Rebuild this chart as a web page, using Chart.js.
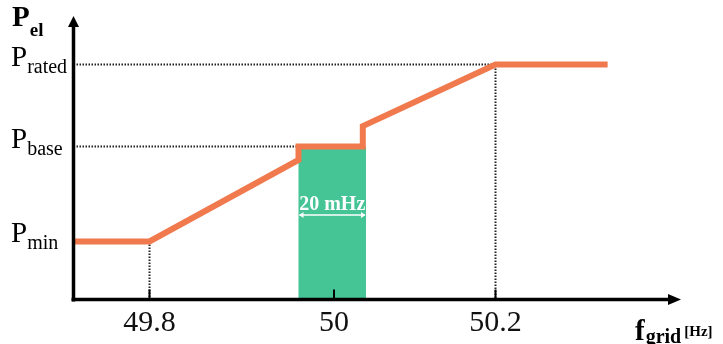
<!DOCTYPE html>
<html>
<head>
<meta charset="utf-8">
<script src="https://cdn.jsdelivr.net/npm/chart.js@4/dist/chart.umd.min.js"></script>
<style>
  html, body { margin: 0; padding: 0; background: #ffffff; }
  #wrap { width: 723px; height: 344px; position: relative; }
</style>
</head>
<body>
<div id="wrap"><canvas id="c" width="723" height="344"></canvas></div>
<script>
// Frequency-dependent active power curve (normalised, P_rated = 1)
const curveFreq  = [49.7, 49.8, 49.99, 49.99, 50.009, 50.009, 50.2, 50.33];
const curvePower = [0.247, 0.247, 0.594, 0.651, 0.651, 0.738, 1, 1];

// Power levels named on the vertical axis
const levelNames  = ['min', 'base', 'rated'];
const levelValues = [0.247, 0.651, 1];

// Frequency ticks and the deadband around 50 Hz
const xTicks      = [49.8, 50, 50.2];
const xTickLabels = ['49.8', '50', '50.2'];
const deadband    = [49.99, 50.01];
const deadbandLabel = '20 mHz';

// The frequency axis is drawn piecewise: the deadband is widened so it stays readable
const knotFreq = [49.7, 49.8, 49.99, 50, 50.01, 50.2, 50.4];
const knotSpan = [76, 149, 35.5, 32, 129.5, 172.5];
const spanTotal = knotSpan.reduce((a, b) => a + b, 0);
const fLo = knotFreq[0], fHi = knotFreq[knotFreq.length - 1];

function warp(v) {
  let acc = 0;
  for (let i = 0; i < knotSpan.length; i++) {
    const a = knotFreq[i], b = knotFreq[i + 1];
    if (v <= b || i === knotSpan.length - 1) {
      const t = (v - a) / (b - a);
      return fLo + (acc + t * knotSpan[i]) / spanTotal * (fHi - fLo);
    }
    acc += knotSpan[i];
  }
}
function unwarp(u) {
  const s = (u - fLo) / (fHi - fLo) * spanTotal;
  let acc = 0;
  for (let i = 0; i < knotSpan.length; i++) {
    if (s <= acc + knotSpan[i] || i === knotSpan.length - 1) {
      const t = (s - acc) / knotSpan[i];
      return knotFreq[i] + t * (knotFreq[i + 1] - knotFreq[i]);
    }
    acc += knotSpan[i];
  }
}

class SegmentedScale extends Chart.LinearScale {
  getPixelForValue(v) { return super.getPixelForValue(warp(v)); }
  getValueForPixel(p) { return unwarp(super.getValueForPixel(p)); }
}
SegmentedScale.id = 'segmented';
SegmentedScale.defaults = Chart.LinearScale.defaults;
Chart.register(SegmentedScale);

const ORANGE = '#f07a4e';
const GREEN  = '#45c496';
const SERIF  = '"Liberation Serif", "Times New Roman", serif';

const curve = curveFreq.map((f, i) => ({ x: f, y: curvePower[i] }));
const iMin = 0, iBase = 1, iRated = 2;
const guideRated = [
  { x: fLo, y: levelValues[iRated] },
  { x: xTicks[2], y: levelValues[iRated] },
  { x: xTicks[2], y: 0 }
];
const guideBase = [
  { x: fLo, y: levelValues[iBase] },
  { x: deadband[0], y: levelValues[iBase] }
];
const guideMin = [
  { x: xTicks[0], y: levelValues[iMin] },
  { x: xTicks[0], y: 0 }
];

const guideStyle = {
  borderColor: '#222', borderWidth: 2, borderDash: [1.5, 1.5],
  pointRadius: 0, fill: false, tension: 0
};

const drawing = {
  id: 'drawing',
  beforeDatasetsDraw(chart) {
    const { ctx, scales: { x, y } } = chart;
    const x0 = x.getPixelForValue(deadband[0]);
    const x1 = x.getPixelForValue(deadband[1]);
    const yt = y.getPixelForValue(levelValues[iBase]);
    const yb = y.getPixelForValue(0);
    ctx.save();
    ctx.fillStyle = GREEN;
    ctx.fillRect(x0, yt, x1 - x0, yb - yt);

    // width marker across the deadband
    const ya = y.getPixelForValue(0.36);
    ctx.strokeStyle = '#ffffff';
    ctx.fillStyle = '#ffffff';
    ctx.lineWidth = 1.5;
    ctx.beginPath();
    ctx.moveTo(x0 + 1, ya); ctx.lineTo(x1 - 1, ya);
    ctx.stroke();
    ctx.beginPath();
    ctx.moveTo(x0 + 0.5, ya); ctx.lineTo(x0 + 5, ya - 3); ctx.lineTo(x0 + 5, ya + 3); ctx.closePath();
    ctx.moveTo(x1 - 0.5, ya); ctx.lineTo(x1 - 5, ya - 3); ctx.lineTo(x1 - 5, ya + 3); ctx.closePath();
    ctx.fill();
    ctx.font = 'bold 20px ' + SERIF;
    ctx.textAlign = 'center';
    ctx.textBaseline = 'alphabetic';
    ctx.fillText(deadbandLabel, (x0 + x1) / 2, ya - 5);
    ctx.restore();
  },
  afterDatasetsDraw(chart) {
    const { ctx, chartArea, scales: { x, y } } = chart;
    const ax = chartArea.left;
    const ay = chartArea.bottom;
    ctx.save();
    ctx.strokeStyle = '#000';
    ctx.fillStyle = '#000';
    ctx.lineWidth = 3.5;
    ctx.lineCap = 'butt';
    // vertical axis with arrow
    ctx.beginPath();
    ctx.moveTo(ax, ay + 2); ctx.lineTo(ax, 24);
    ctx.stroke();
    ctx.beginPath();
    ctx.moveTo(ax, 16); ctx.lineTo(ax - 5.5, 27); ctx.lineTo(ax + 5.5, 27); ctx.closePath();
    ctx.fill();
    // horizontal axis with arrow
    ctx.beginPath();
    ctx.moveTo(ax - 2, ay); ctx.lineTo(672, ay);
    ctx.stroke();
    ctx.beginPath();
    ctx.moveTo(681, ay); ctx.lineTo(668, ay - 5.5); ctx.lineTo(668, ay + 5.5); ctx.closePath();
    ctx.fill();
    // inward tick marks
    ctx.lineWidth = 2;
    xTicks.forEach(v => {
      const px = x.getPixelForValue(v);
      ctx.beginPath();
      ctx.moveTo(px, ay); ctx.lineTo(px, ay - 10);
      ctx.stroke();
    });

    // level labels P_min, P_base, P_rated
    levelNames.forEach((name, i) => {
      const py = y.getPixelForValue(levelValues[i]);
      ctx.textAlign = 'left';
      ctx.textBaseline = 'alphabetic';
      ctx.font = '29px ' + SERIF;
      ctx.fillText('P', 11, py + 1);
      const w = ctx.measureText('P').width;
      ctx.font = '20px ' + SERIF;
      ctx.fillText(name, 11 + w, py + 8);
    });

    // axis titles
    ctx.font = 'bold 29px ' + SERIF;
    ctx.fillText('P', 12, 26);
    let w = ctx.measureText('P').width;
    ctx.font = 'bold 19px ' + SERIF;
    ctx.fillText('el', 12 + w, 36);

    ctx.font = 'bold 29px ' + SERIF;
    ctx.fillText('f', 635, 340);
    w = ctx.measureText('f').width;
    ctx.font = 'bold 20px ' + SERIF;
    ctx.fillText('grid', 635 + w + 1, 343);
    const wg = ctx.measureText('grid').width;
    ctx.font = 'bold 15px ' + SERIF;
    ctx.fillText('[Hz]', 635 + w + 1 + wg + 3, 336);
    ctx.restore();
  }
};

new Chart(document.getElementById('c'), {
  type: 'line',
  data: {
    datasets: [
      { data: curve, borderColor: ORANGE, borderWidth: 6, pointRadius: 0,
        fill: false, tension: 0, borderJoinStyle: 'miter', borderCapStyle: 'butt' },
      Object.assign({ data: guideRated }, guideStyle),
      Object.assign({ data: guideBase }, guideStyle),
      Object.assign({ data: guideMin }, guideStyle)
    ]
  },
  options: {
    responsive: false,
    animation: false,
    events: [],
    layout: { padding: { left: 73.5, right: 55, top: 26.9, bottom: 0 } },
    plugins: { legend: { display: false }, tooltip: { enabled: false } },
    scales: {
      x: {
        type: 'segmented',
        min: fLo, max: fHi,
        grid: { display: false, drawTicks: false },
        border: { display: false },
        afterBuildTicks: s => { s.ticks = xTicks.map(v => ({ value: v })); },
        afterFit: s => { s.height = 44.5; },
        ticks: {
          autoSkip: false, maxRotation: 0, padding: 6, color: '#111',
          font: { family: SERIF, size: 30 },
          callback: v => xTickLabels[xTicks.indexOf(v)]
        }
      },
      y: { type: 'linear', min: 0, max: 1.16, display: false }
    }
  },
  plugins: [drawing]
});
</script>
</body>
</html>
